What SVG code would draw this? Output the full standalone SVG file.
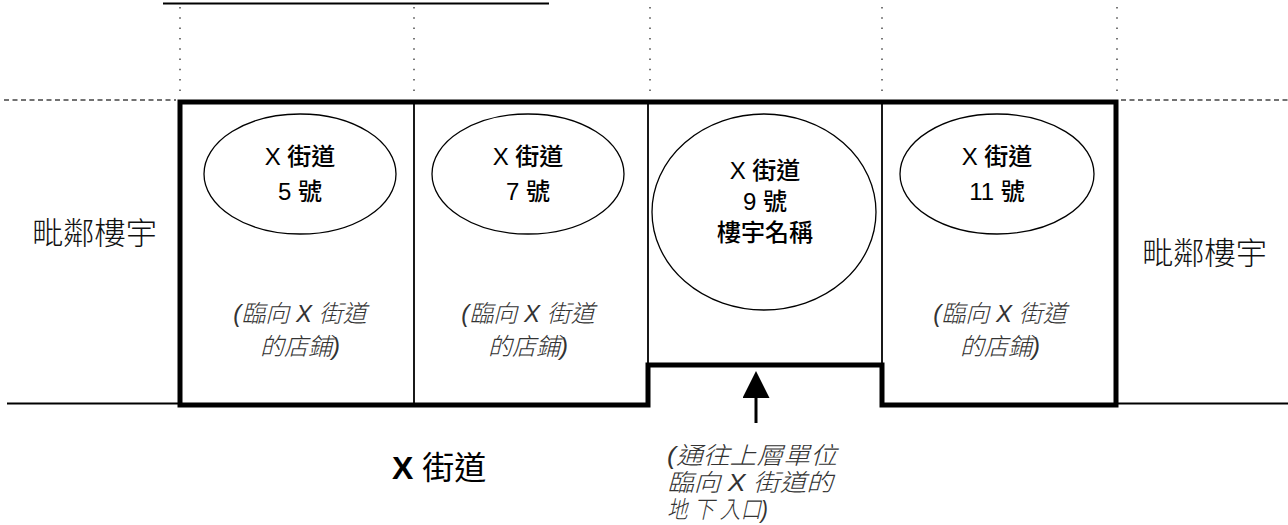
<svg xmlns="http://www.w3.org/2000/svg" width="1288" height="525" viewBox="0 0 1288 525">
<style>
.lbl{font-family:"Liberation Sans Narrow","Liberation Sans","Noto Sans CJK TC",sans-serif;font-size:24px;font-weight:500;fill:#000;text-anchor:middle}
.note{font-family:"Liberation Sans","Noto Sans CJK TC",sans-serif;font-size:24px;font-style:italic;font-weight:300;fill:#333;text-anchor:middle}
.side{font-family:"Noto Sans CJK TC",sans-serif;font-size:31px;font-weight:300;fill:#111}
.dot{stroke:#777;stroke-width:2;stroke-dasharray:1.5 8.8;fill:none}
.dash{stroke:#444;stroke-width:1.5;stroke-dasharray:5 3.5;fill:none}
.thin{stroke:#000;stroke-width:1.8;fill:none}
.ell{fill:#fff;stroke:#000;stroke-width:1.3}
</style>
<defs>
<marker id="ah" markerWidth="9" markerHeight="9" refX="0" refY="4.5" orient="auto" markerUnits="strokeWidth">
<path d="M0,0 L9,4.5 L0,9 Z" fill="#000"/>
</marker>
</defs>
<line x1="163" y1="3.5" x2="549" y2="3.5" stroke="#000" stroke-width="2"/>
<g id="guides">
<line class="dot" x1="180" y1="7" x2="180" y2="92"/>
<line class="dot" x1="414" y1="7" x2="414" y2="92"/>
<line class="dot" x1="650" y1="7" x2="650" y2="92"/>
<line class="dot" x1="882" y1="7" x2="882" y2="92"/>
<line class="dot" x1="1117" y1="7" x2="1117" y2="92"/>
<line class="dash" x1="4" y1="100" x2="176" y2="100"/>
<line class="dash" x1="1121" y1="100" x2="1288" y2="100"/>
<line class="thin" x1="7" y1="403.5" x2="180" y2="403.5" stroke-width="2"/>
<line class="thin" x1="1116" y1="403.5" x2="1288" y2="403.5" stroke-width="2"/>
</g>
<g id="building">
<line class="thin" x1="414" y1="102" x2="414" y2="405"/>
<line class="thin" x1="648" y1="102" x2="648" y2="365"/>
<line class="thin" x1="882" y1="102" x2="882" y2="365"/>
<path d="M180,102 H1116 V405 H882 V365 H648 V405 H180 Z" fill="none" stroke="#000" stroke-width="5" stroke-linejoin="miter"/>
</g>
<g id="n5">
<ellipse class="ell" cx="300" cy="174" rx="96" ry="60"/>
<text class="lbl" x="300" y="165">X 街道</text>
<text class="lbl" x="300" y="200">5 號</text>
<text class="note" x="300" y="322">(臨向 X 街道</text>
<text class="note" x="300" y="355">的店鋪)</text>
</g>
<g id="n7">
<ellipse class="ell" cx="528" cy="174" rx="96" ry="60"/>
<text class="lbl" x="528" y="165">X 街道</text>
<text class="lbl" x="528" y="200">7 號</text>
<text class="note" x="528" y="322">(臨向 X 街道</text>
<text class="note" x="528" y="355">的店鋪)</text>
</g>
<g id="n9">
<ellipse class="ell" cx="764" cy="212" rx="112" ry="98"/>
<text class="lbl" x="765" y="179">X 街道</text>
<text class="lbl" x="765" y="210">9 號</text>
<text class="lbl" x="765" y="241">樓宇名稱</text>
</g>
<g id="n11">
<ellipse class="ell" cx="997" cy="174" rx="97" ry="60"/>
<text class="lbl" x="997" y="165">X 街道</text>
<text class="lbl" x="997" y="200">11 號</text>
<text class="note" x="1000" y="322">(臨向 X 街道</text>
<text class="note" x="1000" y="355">的店鋪)</text>
</g>
<g id="left">
<text class="side" x="32" y="244" textLength="125" lengthAdjust="spacingAndGlyphs">毗鄰樓宇</text>
</g>
<g id="right">
<text class="side" x="1142" y="264" textLength="125" lengthAdjust="spacingAndGlyphs">毗鄰樓宇</text>
</g>
<g id="street">
<text x="392" y="479" font-family="Liberation Sans,Noto Sans CJK TC,sans-serif" font-size="32" fill="#000"><tspan font-weight="bold">X</tspan> 街道</text>
</g>
<g id="connectors">
<line x1="756" y1="423" x2="756" y2="398" stroke="#000" stroke-width="3" marker-end="url(#ah)"/>
</g>
<g id="entrance">
<text class="note" style="text-anchor:start" x="667" y="464" font-size="23" textLength="170" lengthAdjust="spacingAndGlyphs">(通往上層單位</text>
<text class="note" style="text-anchor:start" x="667" y="491" font-size="23" textLength="166" lengthAdjust="spacingAndGlyphs">臨向 X 街道的</text>
<text class="note" style="text-anchor:start" x="667" y="518" font-size="23" textLength="101" lengthAdjust="spacingAndGlyphs">地 下 入口)</text>
</g>
</svg>
